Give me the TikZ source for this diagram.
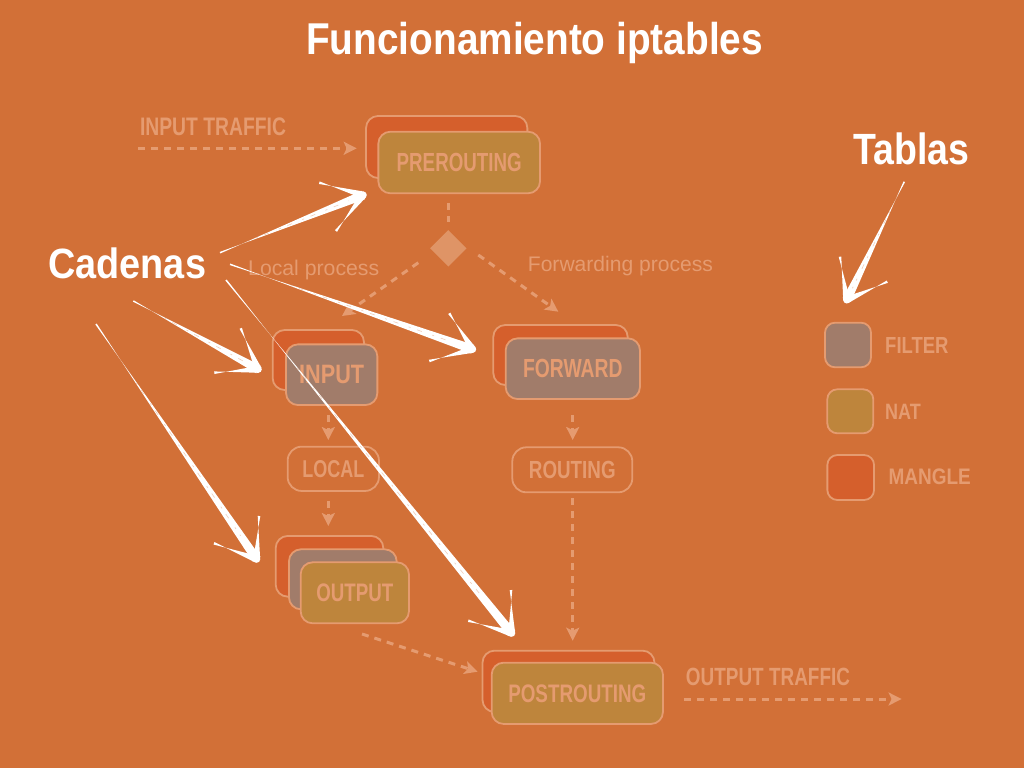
\documentclass[tikz,border=0pt]{standalone}
\usepackage{fontspec}
\setmainfont{Liberation Sans}
\usepackage{graphicx}
\usetikzlibrary{arrows.meta,calc,shapes.geometric}
\definecolor{bgC}{HTML}{D27037}
\definecolor{mangleC}{HTML}{D55F2C}
\definecolor{filterC}{HTML}{A17C6A}
\definecolor{natC}{HTML}{BE853C}
\definecolor{lightC}{HTML}{E59B70}
\definecolor{diamC}{HTML}{DF9466}
\newcommand\lbltxt[3]{\resizebox{#1pt}{#2pt}{\bfseries #3}}
\newcommand\chalkarrow[4]{%
  \fill[chalk] ($(#1)!0.8pt!90:(#2)$) -- ($(#2)!4.5pt!90:(#1)$) -- ($(#2)!4.5pt!-90:(#1)$) -- ($(#1)!0.8pt!-90:(#2)$) -- cycle;
  \fill[chalk] ($(#3)!1.3pt!90:(#2)$) -- ($(#2)!3.5pt!90:(#3)$) -- ($(#2)!3.5pt!-90:(#3)$) -- ($(#3)!1.3pt!-90:(#2)$) -- cycle;
  \fill[chalk] ($(#4)!1.3pt!90:(#2)$) -- ($(#2)!3.5pt!90:(#4)$) -- ($(#2)!3.5pt!-90:(#4)$) -- ($(#4)!1.3pt!-90:(#2)$) -- cycle;
  \fill[chalk] (#2) circle (3.5pt);
  \draw[scratch] ($(#1)!0.25!(#2)$) -- ($(#1)!0.9!(#2)$);
}
\tikzset{
  box/.style={rectangle, rounded corners=12pt, draw=lightC, line width=1.8pt, inner sep=0pt, text=lightC},
  mangle/.style={box, fill=mangleC},
  filter/.style={box, fill=filterC},
  nat/.style={box, fill=natC},
  plain/.style={box, rounded corners=14pt},
  flow/.style={draw=lightC, line width=3pt, dash pattern=on 7pt off 6pt, -{Stealth[length=13pt,width=13pt,inset=3pt]}},
  flowline/.style={draw=lightC, line width=3pt, dash pattern=on 7pt off 6pt},
  lbl/.style={inner sep=0pt, text=lightC},
  chalk/.style={white},
  scratch/.style={draw=bgC, opacity=0.35, line width=0.6pt, dash pattern=on 2pt off 7pt on 5pt off 11pt},
}
\begin{document}
\begin{tikzpicture}[x=1pt,y=-1pt]
\useasboundingbox (0,0) rectangle (1024,768);
\fill[bgC] (0,0) rectangle (1024,768);

% title
\node[anchor=base west, inner sep=0pt, text=white] (title) at (306,55) {\lbltxt{456.7}{32.3}{Funcionamiento iptables}};

% input traffic
\node[lbl] (intraffic) at (213,126.3) {\lbltxt{146}{17.7}{INPUT TRAFFIC}};
\coordinate (inA) at (138.3,148.3);
\coordinate (inB) at (356.7,148.3);

% PREROUTING
\node[mangle, minimum width=161.3pt, minimum height=62pt] (preM) at (446.7,147) {};
\node[nat, minimum width=161.7pt, minimum height=61.6pt] (preN) at (459.2,162.5) {\lbltxt{125}{18.3}{PREROUTING}};

% decision
\node[diamond, fill=diamC, minimum width=36.6pt, minimum height=36.6pt, inner sep=0pt] (dec) at (448.3,248.3) {};
\coordinate (decT) at (448.3,203);
\coordinate (decT2) at (448.3,222);
\coordinate (decL) at (418.3,262.7);
\coordinate (decLend) at (342,316);
\coordinate (decR) at (478.3,255);
\coordinate (decRend) at (558.3,311.7);
\node[anchor=base west, inner sep=0pt, text=lightC] (localp) at (248,275.7) {\resizebox{131pt}{!}{Local process}};
\node[anchor=base west, inner sep=0pt, text=lightC] (fwdp) at (527.7,271.7) {\resizebox{185pt}{!}{Forwarding process}};

% INPUT
\node[mangle, minimum width=91.3pt, minimum height=60pt] (inpM) at (318.3,360) {};
\node[filter, minimum width=91.3pt, minimum height=60.7pt] (inpF) at (331.7,374.7) {\lbltxt{65}{18.3}{INPUT}};

% LOCAL
\node[plain, minimum width=91.3pt, minimum height=44.3pt] (local) at (333.3,468.8) {\lbltxt{62}{17}{LOCAL}};

% OUTPUT
\node[mangle, minimum width=107.6pt, minimum height=60.7pt] (outM) at (329.5,566.3) {};
\node[filter, minimum width=107.7pt, minimum height=60pt] (outF) at (342.8,579.3) {};
\node[nat, minimum width=108.3pt, minimum height=61pt] (outN) at (354.8,592.8) {\lbltxt{77}{17.7}{OUTPUT}};

% FORWARD
\node[mangle, minimum width=134.4pt, minimum height=60pt] (fwdM) at (560.5,355) {};
\node[filter, minimum width=134.3pt, minimum height=60.7pt] (fwdF) at (572.8,368.7) {\lbltxt{99.4}{18.3}{FORWARD}};

% ROUTING
\node[plain, minimum width=120pt, minimum height=45pt] (routing) at (572.3,469.8) {\lbltxt{86.7}{17.3}{ROUTING}};

% POSTROUTING
\node[mangle, minimum width=172pt, minimum height=61.3pt] (postM) at (568.5,681.3) {};
\node[nat, minimum width=171.3pt, minimum height=61.3pt] (postN) at (577.3,693.3) {\lbltxt{138}{17.7}{POSTROUTING}};

% output traffic
\node[lbl] (outtraffic) at (768,677) {\lbltxt{164}{17.4}{OUTPUT TRAFFIC}};
\coordinate (outA) at (684,699);
\coordinate (outB) at (901.6,699);

% flow arrows
\draw[flow] (inA) -- (inB);
\draw[flowline] (decT) -- (decT2);
\draw[flow] (decL) -- (decLend);
\draw[flow] (decR) -- (decRend);
\coordinate (il1) at (328.3,415);
\coordinate (il2) at (328.3,440);
\draw[flow] (il1) -- (il2);
\coordinate (lo1) at (328.3,500.7);
\coordinate (lo2) at (328.3,526);
\draw[flow] (lo1) -- (lo2);
\coordinate (fr1) at (572.7,415);
\coordinate (fr2) at (572.7,440);
\draw[flow] (fr1) -- (fr2);
\coordinate (rp1) at (572.7,498);
\coordinate (rp2) at (572.7,640.7);
\draw[flow] (rp1) -- (rp2);
\coordinate (op1) at (362,634);
\coordinate (op2) at (477.6,671.7);
\draw[flow] (op1) -- (op2);
\draw[flow] (outA) -- (outB);

% legend
\node[filter, rounded corners=10pt, minimum width=46pt, minimum height=44.6pt] (legF) at (848,345) {};
\node[lbl, anchor=west] (legFt) at (885,345.8) {\lbltxt{63.3}{16}{FILTER}};
\node[nat, rounded corners=10pt, minimum width=46pt, minimum height=44pt] (legN) at (850.3,411.3) {};
\node[lbl, anchor=west] (legNt) at (885,411.7) {\lbltxt{35.7}{15.3}{NAT}};
\node[mangle, rounded corners=10pt, minimum width=46.7pt, minimum height=45pt] (legM) at (850.7,477.5) {};
\node[lbl, anchor=west] (legMt) at (888.3,477.2) {\lbltxt{82.3}{15.7}{MANGLE}};

% annotations
\node[inner sep=0pt, text=white] (cadenas) at (127.2,263.7) {\lbltxt{157.7}{30.7}{Cadenas}};
\node[inner sep=0pt, text=white, anchor=west] (tablas) at (853.3,149.2) {\lbltxt{116}{31.7}{Tablas}};

\coordinate (aT) at (220,252.7);   \coordinate (aP) at (363.3,195);
\coordinate (aB1) at (319.3,182.7); \coordinate (aB2) at (336,231);
\coordinate (bT) at (133.3,301);   \coordinate (bP) at (258.3,369.3);
\coordinate (bB1) at (240.7,328.3); \coordinate (bB2) at (214.3,372.7);
\coordinate (cT) at (230,264.3);   \coordinate (cP) at (472.7,349.3);
\coordinate (cB1) at (449.3,313.3); \coordinate (cB2) at (429.3,361);
\coordinate (dT) at (96,324);      \coordinate (dP) at (256.7,559.3);
\coordinate (dB1) at (259,516);    \coordinate (dB2) at (214,543.3);
\coordinate (eT) at (226,280);     \coordinate (eP) at (511.7,633.3);
\coordinate (eB1) at (511,590);    \coordinate (eB2) at (468.3,620.7);
\coordinate (fT) at (904.3,181.7); \coordinate (fP) at (846.7,300);
\coordinate (fB1) at (840,256.7);  \coordinate (fB2) at (887.3,281.7);

\chalkarrow{aT}{aP}{aB1}{aB2}
\chalkarrow{bT}{bP}{bB1}{bB2}
\chalkarrow{cT}{cP}{cB1}{cB2}
\chalkarrow{dT}{dP}{dB1}{dB2}
\chalkarrow{eT}{eP}{eB1}{eB2}
\chalkarrow{fT}{fP}{fB1}{fB2}
\end{tikzpicture}
\end{document}
